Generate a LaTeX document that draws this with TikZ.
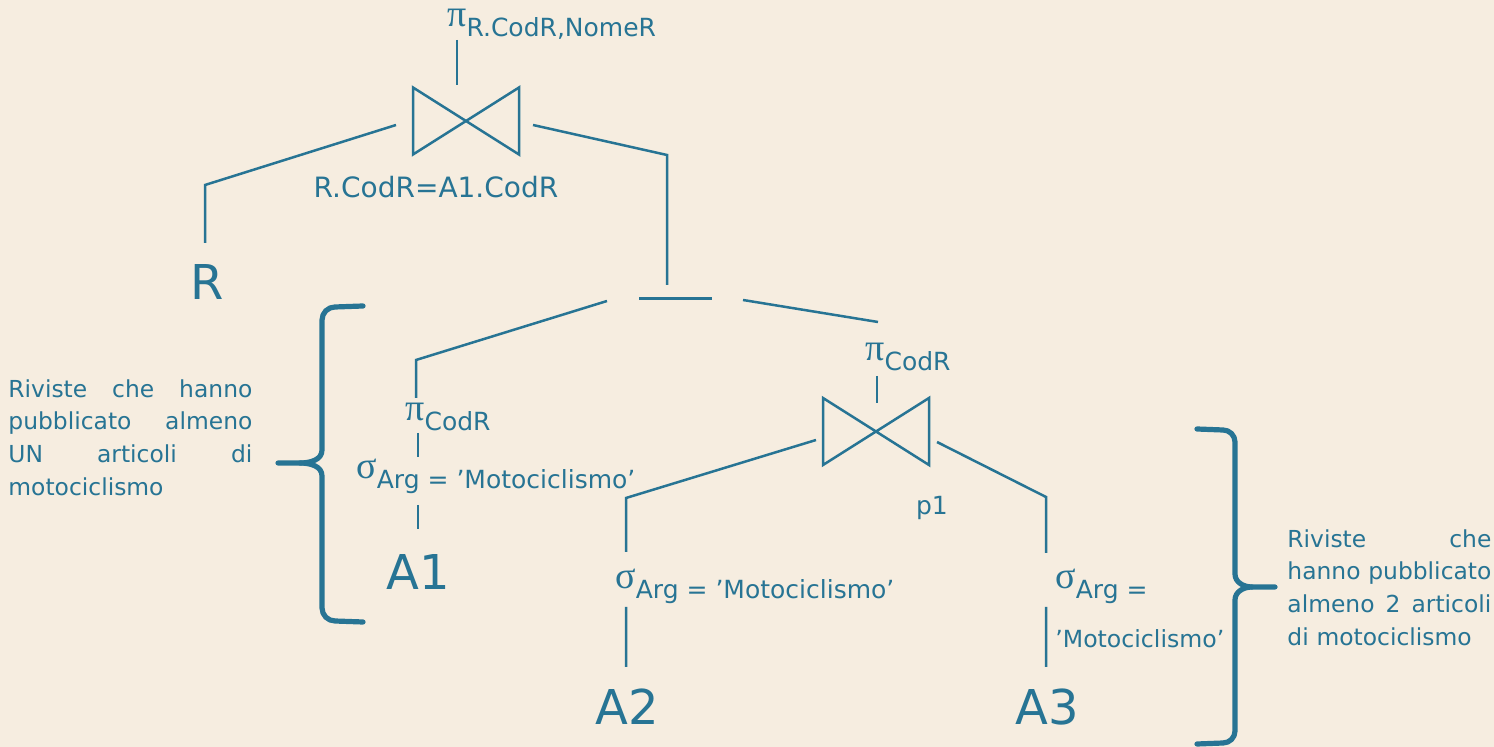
\documentclass[tikz,border=0pt]{standalone}
\usepackage{fontspec}
\setmainfont{DejaVu Sans}
\newfontfamily\grkfont{Liberation Serif}
\definecolor{tealop}{RGB}{39,116,148}
\definecolor{paper}{RGB}{246,237,224}
\newcommand{\relop}[2]{{\grkfont\fontsize{19}{19}\selectfont #1}\raisebox{-5pt}{\fontsize{12.5}{14}\selectfont #2}}
\tikzset{
  link/.style={draw=tealop,line width=1.25pt},
  brace/.style={draw=tealop,line width=2.6pt,line cap=round,line join=round},
  lbl/.style={text=tealop,inner sep=0pt,anchor=base,font=\fontsize{14}{17}\selectfont},
  rel/.style={text=tealop,inner sep=0pt,anchor=base west},
  tbl/.style={text=tealop,inner sep=0pt,anchor=base,font=\fontsize{24}{28}\selectfont},
  note/.style={text=tealop,inner sep=0pt,anchor=north west,align=left,font=\fontsize{11.7}{16.4}\selectfont},
  bowtie/.pic={\draw[link] (-53,-33.5) -- (-53,33.5) -- (53,-33.5) -- (53,33.5) -- cycle;}
}

\begin{document}
\begin{tikzpicture}[x=0.5pt,y=-0.5pt]
\fill[paper] (0,0) rectangle (1494,747);
\useasboundingbox (0,0) rectangle (1494,747);

% top of the tree
\node[rel] (pRN) at (447,27) {\relop{π}{R.CodR,NomeR}};
\coordinate (j1) at (466,121);
\pic at (j1) {bowtie};
\node[lbl] (c1) at (436,198) {R.CodR=A1.CodR};
\node[tbl] (R) at (207,300) {R};

% difference
\coordinate (m1) at (639,298.5);
\coordinate (m2) at (712,298.5);
\draw[link] (m1) -- (m2);

% left branch
\node[rel] (pC1) at (405,421) {\relop{π}{CodR}};
\node[rel] (sA1) at (356,479) {\relop{σ}{Arg = ’Motociclismo’}};
\node[tbl] (A1) at (418,590) {A1};

% right branch
\node[rel] (pC2) at (865,361) {\relop{π}{CodR}};
\coordinate (j2) at (876,431.5);
\pic at (j2) {bowtie};
\node[lbl,font=\fontsize{12.5}{14}\selectfont] (p1) at (932,515) {p1};
\node[rel] (sA2) at (615,589) {\relop{σ}{Arg = ’Motociclismo’}};
\node[tbl] (A2) at (627,725) {A2};
\node[rel] (sA3) at (1055,589) {\relop{σ}{Arg =}};
\node[rel,font=\fontsize{11.8}{14}\selectfont] (sA3b) at (1055,648) {’Motociclismo’};
\node[tbl] (A3) at (1047,725) {A3};

% connectors
\coordinate (t1) at (457,40);   \coordinate (t2) at (457,85);
\coordinate (l1) at (396,125);  \coordinate (l2) at (205,185);  \coordinate (l3) at (205,243);
\coordinate (r1) at (533,125);  \coordinate (r2) at (667,155);  \coordinate (r3) at (667,285);
\coordinate (d1) at (607,301);  \coordinate (d2) at (416,360);  \coordinate (d3) at (416,398);
\coordinate (e1) at (743,300);  \coordinate (e2) at (878,322);
\coordinate (f1) at (877,376);  \coordinate (f2) at (877,403);
\coordinate (g1) at (418,433);  \coordinate (g2) at (418,457);
\coordinate (g3) at (418,505);  \coordinate (g4) at (418,529);
\coordinate (h1) at (816,440);  \coordinate (h2) at (626,498);  \coordinate (h3) at (626,552);
\coordinate (h4) at (626,607);  \coordinate (h5) at (626,667);
\coordinate (k1) at (937,442);  \coordinate (k2) at (1046,497); \coordinate (k3) at (1046,553);
\coordinate (k4) at (1046,607); \coordinate (k5) at (1046,667);
\draw[link] (t1) -- (t2);
\draw[link] (l1) -- (l2) -- (l3);
\draw[link] (r1) -- (r2) -- (r3);
\draw[link] (d1) -- (d2) -- (d3);
\draw[link] (e1) -- (e2);
\draw[link] (f1) -- (f2);
\draw[link] (g1) -- (g2) (g3) -- (g4);
\draw[link] (h1) -- (h2) -- (h3) (h4) -- (h5);
\draw[link] (k1) -- (k2) -- (k3) (k4) -- (k5);

% braces
\draw[brace] (363,306) -- (335,307) to[out=180,in=90] (322,320) -- (322,450)
  to[out=-90,in=0] (300,463) -- (278,463);
\draw[brace] (300,463) to[out=0,in=90] (322,476) -- (322,608)
  to[out=-90,in=180] (335,621) -- (363,622);
\draw[brace] (1197,429) -- (1223,430) to[out=0,in=90] (1235,442) -- (1235,574)
  to[out=-90,in=180] (1252,587) -- (1275,587);
\draw[brace] (1252,587) to[out=180,in=90] (1235,600) -- (1235,731)
  to[out=-90,in=0] (1223,743) -- (1197,744);

% notes
\node[note,text width=122pt] (n1) at (8,379)
  {Riviste\hfill che\hfill hanno\\pubblicato\hfill almeno\\UN\hfill articoli\hfill di\\motociclismo};
\node[note,text width=102pt] (n2) at (1287,529)
  {Riviste\hfill che\\hanno\hfill pubblicato\\almeno\hfill 2\hfill articoli\\di motociclismo};
\end{tikzpicture}
\end{document}
